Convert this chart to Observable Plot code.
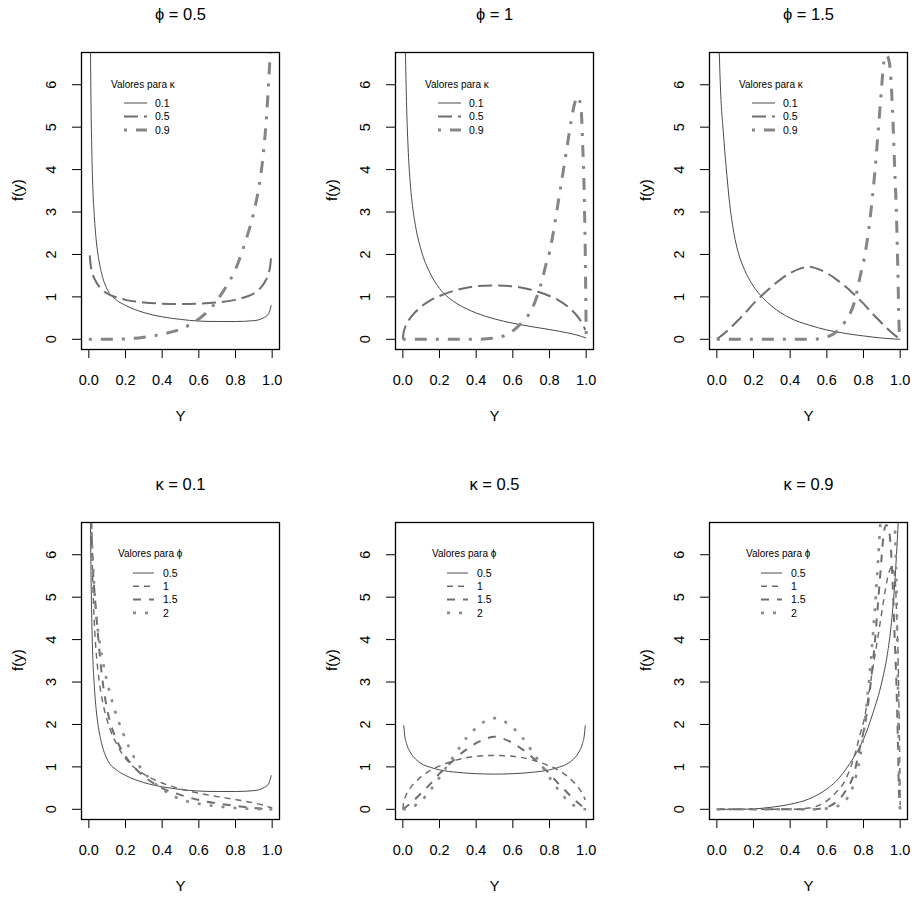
<!DOCTYPE html>
<html>
<head>
<meta charset="utf-8">
<script src="https://cdn.jsdelivr.net/npm/d3@7"></script>
<script src="https://cdn.jsdelivr.net/npm/@observablehq/plot@0.6"></script>
<style>
  body { margin: 0; background: #fff; font-family: "Liberation Sans", Arial, sans-serif; }
  #root { position: relative; width: 912px; height: 899px; overflow: hidden; background: #fff; }
  .panel { position: absolute; }
</style>
</head>
<body>
<div id="root"></div>
<script>
// ---------- tick values ----------
const xTicks = [0, 0.2, 0.4, 0.6, 0.8, 1.0];
const yTicks = [0, 1, 2, 3, 4, 5, 6];

// ---------- curves: [y, f(y)] ----------
// kappa = 0.1
const k01_p05 = [[0.009,6.8],[0.012,5.5],[0.016,4.5],[0.02,3.8],[0.03,2.9],[0.04,2.35],[0.05,2.0],[0.07,1.55],[0.1,1.18],[0.15,0.93],[0.2,0.8],[0.3,0.63],[0.4,0.53],[0.5,0.47],[0.6,0.43],[0.7,0.42],[0.8,0.42],[0.9,0.44],[0.95,0.5],[0.98,0.6],[0.995,0.8]];
const k01_p1  = [[0.014,6.8],[0.02,5.6],[0.03,4.4],[0.04,3.7],[0.05,3.25],[0.07,2.65],[0.1,2.1],[0.15,1.55],[0.2,1.2],[0.25,0.98],[0.3,0.83],[0.4,0.62],[0.5,0.48],[0.6,0.38],[0.7,0.3],[0.8,0.23],[0.9,0.15],[0.95,0.1],[1.0,0.03]];
const k01_p15 = [[0.013,6.8],[0.02,5.9],[0.035,4.9],[0.05,4.1],[0.07,3.2],[0.1,2.35],[0.12,2.0],[0.15,1.65],[0.2,1.25],[0.25,0.98],[0.3,0.78],[0.4,0.5],[0.5,0.34],[0.6,0.22],[0.7,0.14],[0.8,0.08],[0.9,0.03],[1.0,0]];
const k01_p2  = [[0.012,6.8],[0.02,6.0],[0.03,5.2],[0.04,4.6],[0.06,3.9],[0.08,3.4],[0.1,3.0],[0.13,2.5],[0.16,2.1],[0.2,1.65],[0.25,1.2],[0.3,0.88],[0.35,0.65],[0.4,0.48],[0.45,0.34],[0.5,0.24],[0.6,0.13],[0.7,0.07],[0.8,0.03],[0.9,0.01],[1.0,0]];
// kappa = 0.5
const k05_p05 = [[0.005,1.98],[0.01,1.75],[0.02,1.55],[0.04,1.35],[0.07,1.18],[0.1,1.08],[0.15,0.99],[0.2,0.93],[0.3,0.87],[0.4,0.84],[0.5,0.83],[0.6,0.84],[0.7,0.87],[0.8,0.93],[0.85,0.99],[0.9,1.08],[0.93,1.18],[0.96,1.35],[0.98,1.55],[0.99,1.75],[0.995,1.98]];
const k05_p1  = [[0,0],[0.005,0.18],[0.01,0.25],[0.02,0.36],[0.04,0.5],[0.07,0.65],[0.1,0.77],[0.15,0.92],[0.2,1.02],[0.3,1.17],[0.4,1.25],[0.5,1.27],[0.6,1.25],[0.7,1.17],[0.8,1.02],[0.85,0.92],[0.9,0.77],[0.93,0.65],[0.96,0.5],[0.98,0.36],[0.995,0.22]];
const k05_p15 = [[0,0],[0.05,0.17],[0.1,0.38],[0.15,0.6],[0.2,0.84],[0.25,1.05],[0.3,1.25],[0.35,1.42],[0.4,1.56],[0.45,1.66],[0.5,1.71],[0.55,1.66],[0.6,1.56],[0.65,1.42],[0.7,1.25],[0.75,1.05],[0.8,0.84],[0.85,0.6],[0.9,0.38],[0.95,0.17],[1.0,0]];
const k05_p2  = [[0,0],[0.05,0.05],[0.1,0.2],[0.15,0.45],[0.2,0.75],[0.25,1.08],[0.3,1.4],[0.35,1.7],[0.4,1.92],[0.45,2.08],[0.5,2.15],[0.55,2.08],[0.6,1.92],[0.65,1.7],[0.7,1.4],[0.75,1.08],[0.8,0.75],[0.85,0.45],[0.9,0.2],[0.95,0.05],[1.0,0]];
// kappa = 0.9
const k09_p05 = [[0,0],[0.1,0],[0.2,0.01],[0.3,0.05],[0.4,0.12],[0.5,0.24],[0.6,0.48],[0.65,0.66],[0.7,0.92],[0.75,1.25],[0.8,1.65],[0.85,2.25],[0.9,3.0],[0.93,3.65],[0.95,4.3],[0.97,5.3],[0.98,6.0],[0.99,6.8]];
const k09_p1  = [[0,0],[0.2,0],[0.4,0],[0.5,0.03],[0.55,0.08],[0.6,0.2],[0.65,0.4],[0.7,0.68],[0.735,1.05],[0.76,1.4],[0.78,1.75],[0.8,2.05],[0.82,2.5],[0.85,3.3],[0.88,4.1],[0.9,4.65],[0.92,5.2],[0.94,5.6],[0.955,5.72],[0.973,5.4],[0.98,4.7],[0.99,3.3],[0.996,1.7],[1.0,0.1]];
const k09_p15 = [[0,0],[0.3,0],[0.5,0],[0.55,0.01],[0.6,0.05],[0.65,0.17],[0.7,0.42],[0.75,0.87],[0.78,1.45],[0.81,2.05],[0.84,3.0],[0.86,3.85],[0.88,4.9],[0.9,6.0],[0.91,6.5],[0.925,6.7],[0.94,6.55],[0.954,5.8],[0.962,5.0],[0.97,4.05],[0.98,2.9],[0.987,1.7],[0.995,0.2],[1.0,0]];
const k09_p2  = [[0,0],[0.5,0],[0.6,0.02],[0.65,0.06],[0.7,0.2],[0.73,0.4],[0.76,0.8],[0.78,1.2],[0.8,1.75],[0.82,2.6],[0.84,3.5],[0.86,4.6],[0.88,5.9],[0.89,6.6],[0.9,7.2],[0.92,7.8],[0.94,8.0],[0.96,7.4],[0.97,6.8],[0.98,5.2],[0.987,3.2],[0.993,1.2],[1.0,0]];

// ---------- labels ----------
const kappaLabels = ["0.1", "0.5", "0.9"];
const phiLabels = ["0.5", "1", "1.5", "2"];
const topTitles = ["ϕ = 0.5", "ϕ = 1", "ϕ = 1.5"];
const bottomTitles = ["κ = 0.1", "κ = 0.5", "κ = 0.9"];

// ---------- styles ----------
const S = {
  solid:    {stroke: "#4a4a4a", strokeWidth: 1},
  longdash: {stroke: "#6e6e6e", strokeWidth: 2, strokeDasharray: "14,6"},
  dotdash:  {stroke: "#858585", strokeWidth: 3, strokeDasharray: "3,9,12,9"},
  dash:     {stroke: "#6a6a6a", strokeWidth: 1.4, strokeDasharray: "6,5"},
  dash2:    {stroke: "#6e6e6e", strokeWidth: 2, strokeDasharray: "8,8"},
  dot:      {stroke: "#8a8a8a", strokeWidth: 2.6, strokeDasharray: "3,9"}
};
const topStyles = [S.solid, S.longdash, S.dotdash];
const bottomStyles = [S.solid, S.dash, S.dash2, S.dot];

const panels = [
  {left: 0,   top: 0,   title: topTitles[0], legTitle: "Valores para κ", labels: kappaLabels, styles: topStyles, curves: [k01_p05, k05_p05, k09_p05], leg: "top"},
  {left: 314, top: 0,   title: topTitles[1], legTitle: "Valores para κ", labels: kappaLabels, styles: topStyles, curves: [k01_p1, k05_p1, k09_p1], leg: "top"},
  {left: 628, top: 0,   title: topTitles[2], legTitle: "Valores para κ", labels: kappaLabels, styles: topStyles, curves: [k01_p15, k05_p15, k09_p15], leg: "top"},
  {left: 0,   top: 470, title: bottomTitles[0], legTitle: "Valores para ϕ", labels: phiLabels, styles: bottomStyles, curves: [k01_p05, k01_p1, k01_p15, k01_p2], leg: "bottom"},
  {left: 314, top: 470, title: bottomTitles[1], legTitle: "Valores para ϕ", labels: phiLabels, styles: bottomStyles, curves: [k05_p05, k05_p1, k05_p15, k05_p2], leg: "bottom"},
  {left: 628, top: 470, title: bottomTitles[2], legTitle: "Valores para ϕ", labels: phiLabels, styles: bottomStyles, curves: [k09_p05, k09_p1, k09_p15, k09_p2], leg: "bottom"}
];

const ML = 81, MR = 5, MT = 52, MB = 80, W = 284, H = 429;
const FONT = "'Liberation Sans', Arial, Helvetica, sans-serif";

const legendLayout = {
  top:    {titleX: 30, x1: 43, x2: 66, textX: 74, titleY: 32, rowY0: 51, rowStep: 13.5},
  bottom: {titleX: 37, x1: 52, x2: 73, textX: 82, titleY: 31, rowY0: 51, rowStep: 13.3}
};

const root = document.getElementById("root");

for (const p of panels) {
  const marks = [
    ...p.curves.map((c, i) => Plot.line(c, {
      x: d => d[0], y: d => d[1], curve: "monotone-x", clip: true,
      strokeLinecap: "butt", strokeLinejoin: "round", ...p.styles[i]
    })),
    Plot.frame({stroke: "#000", strokeWidth: 1.3}),
    Plot.axisX({ticks: xTicks, tickSize: 9, tickPadding: 16, tickFormat: d => d.toFixed(1), fontSize: 14.5, label: null}),
    Plot.axisY({ticks: yTicks, tickSize: 9, tickPadding: 17, tickRotate: -90, tickFormat: d => String(d), fontSize: 14.5, label: null}),
    Plot.text([p.title], {frameAnchor: "top", dy: -44, text: d => d, fontSize: 16.5}),
    Plot.text(["Y"], {frameAnchor: "bottom", dy: 71, text: d => d, fontSize: 15}),
    Plot.text(["f(y)"], {frameAnchor: "left", dx: -63, rotate: -90, text: d => d, fontSize: 15})
  ];
  const chart = Plot.plot({
    width: W, height: H,
    marginLeft: ML, marginRight: MR, marginTop: MT, marginBottom: MB,
    x: {domain: [-0.04, 1.04]},
    y: {domain: [-0.24, 6.76]},
    style: {fontFamily: FONT, color: "#000", background: "transparent", overflow: "visible"},
    marks
  });

  // legend (R-style, inside the plot box)
  const L = legendLayout[p.leg];
  const g = d3.select(chart).append("g")
    .attr("transform", `translate(${ML},${MT})`)
    .attr("font-family", FONT).attr("font-size", 10).attr("fill", "#000")
    .attr("text-anchor", "start");
  g.append("text").attr("x", L.titleX).attr("y", L.titleY).attr("dy", "0.35em")
    .attr("text-anchor", "start").text(p.legTitle);
  p.labels.forEach((lab, i) => {
    const y = L.rowY0 + i * L.rowStep;
    const st = p.styles[i];
    g.append("line").attr("x1", L.x1).attr("x2", L.x2).attr("y1", y).attr("y2", y)
      .attr("stroke", st.stroke).attr("stroke-width", st.strokeWidth)
      .attr("stroke-dasharray", st.strokeDasharray || null).attr("stroke-linecap", "butt");
    g.append("text").attr("x", L.textX).attr("y", y).attr("dy", "0.35em")
      .attr("text-anchor", "start").attr("font-size", 10.5).text(lab);
  });

  const div = document.createElement("div");
  div.className = "panel";
  div.style.left = p.left + "px";
  div.style.top = p.top + "px";
  div.appendChild(chart);
  root.appendChild(div);
}
</script>
</body>
</html>
